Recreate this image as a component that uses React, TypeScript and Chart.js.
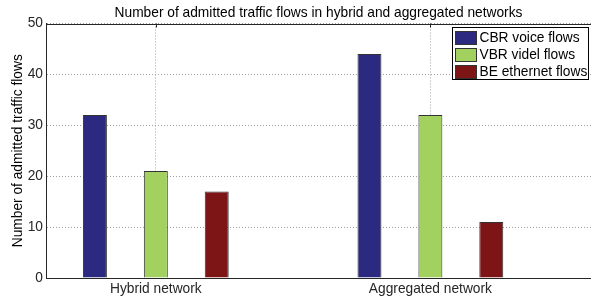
import React, { useEffect, useRef } from 'react';
import { Chart, registerables } from 'chart.js';

Chart.register(...registerables);

const titleText = 'Number of admitted traffic flows in hybrid and aggregated networks';
const yAxisTitle = 'Number of admitted traffic flows';
const categories = ['Hybrid network', 'Aggregated network'];
const categoryPositions = [1, 2];
const seriesLabels = ['CBR voice flows', 'VBR videl flows', 'BE ethernet flows'];
const cbrVoice = [32, 44];
const vbrVideo = [21, 32];
const beEthernet = [17, 11];
const seriesColors = ['#2b2a80', '#a3d160', '#7d1416'];
const yMin = 0;
const yMax = 50;
const yStep = 10;
const xMin = 0.6;
const xMax = 2.585;

const FONT = "'Liberation Sans', Arial, Helvetica, sans-serif";
const FONT_SIZE = 13.75;

const framePlugin = {
  id: 'frameAndLegend',
  afterDraw(chart: any) {
    const { ctx, chartArea: a } = chart;
    ctx.save();
    // top border with inward ticks (MATLAB box)
    ctx.strokeStyle = '#262626';
    ctx.lineWidth = 1;
    ctx.beginPath();
    ctx.moveTo(a.left, Math.round(a.top) + 0.5);
    ctx.lineTo(a.right, Math.round(a.top) + 0.5);
    const xs = chart.scales.x;
    xs.ticks.forEach((_t: any, i: number) => {
      const px = Math.round(xs.getPixelForTick(i)) + 0.5;
      ctx.moveTo(px, a.top);
      ctx.lineTo(px, a.top + 4);
    });
    ctx.stroke();

    // legend box inside the axes, top-right
    ctx.font = `${FONT_SIZE}px ${FONT}`;
    const labels = chart.data.datasets.map((d: any) => d.label);
    const maxW = Math.max(...labels.map((l: string) => ctx.measureText(l).width));
    const swW = 21;
    const swH = 13;
    const rowH = 17;
    const boxW = 3 + swW + 3 + maxW + 2;
    const boxH = 52;
    const right = Math.round(a.right - 3) + 0.5;
    const top = Math.round(a.top + 3) + 0.5;
    const left = Math.round(right - boxW) + 0.5;
    ctx.fillStyle = '#ffffff';
    ctx.fillRect(left, top, right - left, boxH);
    ctx.strokeStyle = '#000000';
    ctx.lineWidth = 1;
    ctx.strokeRect(left, top, right - left, boxH);
    ctx.textBaseline = 'middle';
    ctx.textAlign = 'left';
    chart.data.datasets.forEach((d: any, i: number) => {
      const cy = top + 10 + i * rowH;
      ctx.fillStyle = d.backgroundColor;
      ctx.fillRect(left + 3, Math.round(cy - swH / 2), swW, swH);
      ctx.strokeStyle = '#333333';
      ctx.strokeRect(left + 3, Math.round(cy - swH / 2) + 0.5, swW, swH);
      ctx.fillStyle = '#000000';
      ctx.fillText(d.label, left + 3 + swW + 3, cy + 0.5);
    });
    ctx.restore();
  },
};

export default function App() {
  const ref = useRef<HTMLCanvasElement | null>(null);

  useEffect(() => {
    if (!ref.current) return;
    const seriesValues = [cbrVoice, vbrVideo, beEthernet];
    const chart = new Chart(ref.current, {
      type: 'bar',
      data: {
        datasets: seriesValues.map((vals, i) => ({
          label: seriesLabels[i],
          data: vals.map((v, j) => ({ x: categoryPositions[j], y: v })),
          backgroundColor: seriesColors[i],
          borderColor: '#333333',
          borderWidth: 1,
          categoryPercentage: 0.6655,
          barPercentage: 0.3934,
        })),
      },
      options: {
        responsive: false,
        animation: false,
        devicePixelRatio: 1,
        layout: { padding: 0 },
        font: { family: FONT, size: FONT_SIZE },
        plugins: {
          legend: { display: false },
          tooltip: { enabled: false },
          title: {
            display: true,
            fullSize: false,
            text: titleText,
            color: '#000000',
            font: { family: FONT, size: FONT_SIZE, weight: 'normal' },
            padding: { top: 5, bottom: 2 },
          },
        },
        scales: {
          x: {
            type: 'linear',
            offset: false,
            min: xMin,
            max: xMax,
            bounds: 'data',
            afterBuildTicks: (scale: any) => {
              scale.ticks = categoryPositions.map((v) => ({ value: v }));
            },
            afterFit: (scale: any) => {
              scale.height = 20;
            },
            ticks: {
              autoSkip: false,
              maxRotation: 0,
              padding: 3,
              color: '#262626',
              font: { family: FONT, size: FONT_SIZE },
              callback: (value: any) => {
                const idx = categoryPositions.indexOf(Number(value));
                return idx >= 0 ? categories[idx] : '';
              },
            },
            grid: {
              display: true,
              offset: false,
              drawTicks: false,
              color: '#a0a0a0',
              lineWidth: 1,
            },
            border: { display: true, color: '#262626', width: 1, z: 1, dash: [1, 2] },
          },
          y: {
            min: yMin,
            max: yMax,
            afterFit: (scale: any) => {
              scale.width = 46;
            },
            ticks: {
              stepSize: yStep,
              padding: 3,
              color: '#262626',
              font: { family: FONT, size: FONT_SIZE },
            },
            grid: {
              display: true,
              drawTicks: false,
              color: '#a0a0a0',
              lineWidth: 1,
            },
            border: { display: true, color: '#262626', width: 1, z: 1, dash: [1, 2] },
            title: {
              display: true,
              text: yAxisTitle,
              color: '#000000',
              font: { family: FONT, size: FONT_SIZE },
              padding: { top: 10, bottom: 0 },
            },
          },
        },
      },
      plugins: [framePlugin],
    } as any);

    return () => chart.destroy();
  }, []);

  return (
    <canvas
      ref={ref}
      width={591}
      height={298}
      style={{ position: 'absolute', left: 0, top: 0, width: 591, height: 298 }}
    />
  );
}
